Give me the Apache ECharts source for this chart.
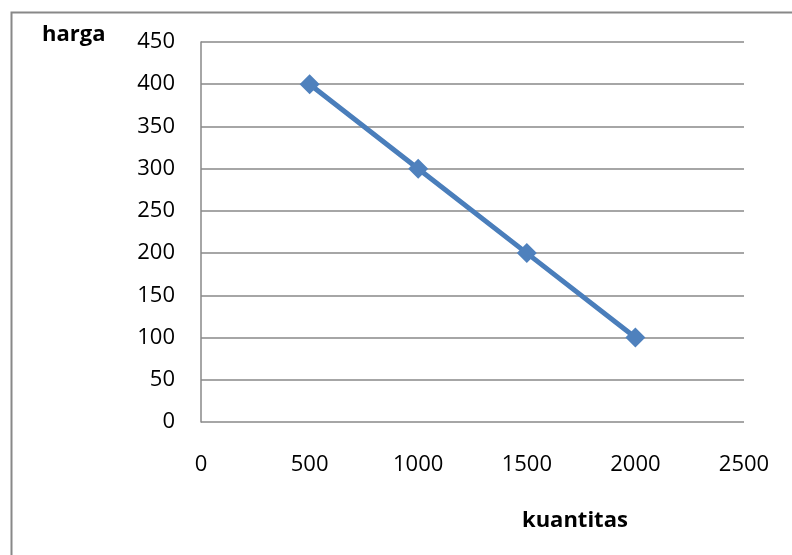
<!DOCTYPE html>
<html><head><meta charset="utf-8">
<script src="https://cdn.jsdelivr.net/npm/echarts@6/dist/echarts.min.js"></script>
<style>html,body{margin:0;padding:0;background:#fff}#c{width:792px;height:555px}</style>
</head><body><div id="c"></div>
<script>
var quantities = [500, 1000, 1500, 2000];
var prices = [400, 300, 200, 100];
var xTicks = [0, 500, 1000, 1500, 2000, 2500];
var yTicks = [0, 50, 100, 150, 200, 250, 300, 350, 400, 450];
var yName = 'harga';
var xName = 'kuantitas';

var FONT = 'Open Sans';
var chart = echarts.init(document.getElementById('c'), null, {renderer: 'canvas'});
chart.setOption({
  animation: false,
  backgroundColor: '#fff',
  grid: {left: 201, right: 48, top: 42, bottom: 133},
  graphic: [
    {type: 'rect', shape: {x: 11.5, y: 12.5, width: 800, height: 560}, style: {fill: 'none', stroke: '#888', lineWidth: 2}, silent: true, z: -1},
    {type: 'text', left: 42, top: 24, style: {text: yName, font: 'bold 22px "' + FONT + '"', fill: '#000'}},
    {type: 'text', left: 522, top: 510, style: {text: xName, font: 'bold 22px "' + FONT + '"', fill: '#000'}}
  ],
  xAxis: {
    type: 'value', min: xTicks[0], max: xTicks[xTicks.length - 1], interval: 500,
    axisLine: {show: false}, axisTick: {show: false}, splitLine: {show: false},
    axisLabel: {margin: 32, color: '#000', fontFamily: FONT, fontSize: 22, formatter: function (v) { return String(v); }}
  },
  yAxis: {
    type: 'value', min: yTicks[0], max: yTicks[yTicks.length - 1], interval: 50,
    axisLine: {show: true, lineStyle: {color: '#888', width: 1.5}}, axisTick: {show: false},
    splitLine: {show: true, lineStyle: {color: '#888', width: 1.5}},
    axisLabel: {margin: 26, color: '#000', fontFamily: FONT, fontSize: 22, formatter: function (v) { return String(v); }}
  },
  series: [{
    type: 'line',
    data: quantities.map(function (q, i) { return [q, prices[i]]; }),
    symbol: 'diamond', symbolSize: 20,
    lineStyle: {color: '#4A7EBB', width: 5},
    itemStyle: {color: '#4F81BD'}
  }]
});
</script></body></html>
